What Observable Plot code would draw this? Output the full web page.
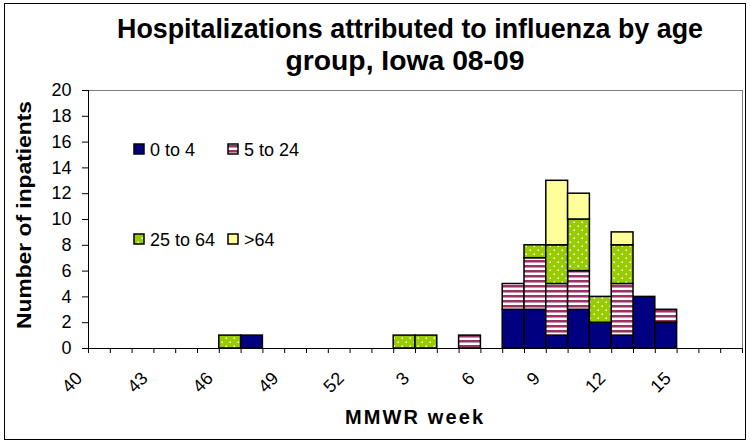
<!DOCTYPE html>
<html>
<head>
<meta charset="utf-8">
<script src="https://cdn.jsdelivr.net/npm/d3@7"></script>
<script src="https://cdn.jsdelivr.net/npm/@observablehq/plot@0.6"></script>
<style>
  body { margin: 0; background: #fff; }
  #wrap { position: relative; width: 750px; height: 444px; overflow: hidden; background: #fff; }
  #border { position: absolute; left: 4px; top: 3px; width: 742px; height: 437px; border: 1px solid #000; box-sizing: border-box; pointer-events: none; }
</style>
</head>
<body>
<div id="wrap"><div id="border"></div></div>
<script>
// ---- data ----
const weeks = ["40","41","42","43","44","45","46","47","48","49","50","51","52",
               "1","2","3","4","5","6","7","8","9","10","11","12","13","14","15","16","17"];
const seriesNames = ["0 to 4", "5 to 24", "25 to 64", ">64"];
//                40 41 42 43 44 45 46 47 48 49 50 51 52  1  2  3  4  5  6  7  8  9 10 11 12 13 14 15 16 17
const age0to4   = [0, 0, 0, 0, 0, 0, 0, 1, 0, 0, 0, 0, 0, 0, 0, 0, 0, 0, 0, 3, 3, 1, 3, 2, 1, 4, 2, 0, 0, 0];
const age5to24  = [0, 0, 0, 0, 0, 0, 0, 0, 0, 0, 0, 0, 0, 0, 0, 0, 0, 1, 0, 2, 4, 4, 3, 0, 4, 0, 1, 0, 0, 0];
const age25to64 = [0, 0, 0, 0, 0, 0, 1, 0, 0, 0, 0, 0, 0, 0, 1, 1, 0, 0, 0, 0, 1, 3, 4, 2, 3, 0, 0, 0, 0, 0];
const age65plus = [0, 0, 0, 0, 0, 0, 0, 0, 0, 0, 0, 0, 0, 0, 0, 0, 0, 0, 0, 0, 0, 5, 2, 0, 1, 0, 0, 0, 0, 0];
const yTicks = [0, 2, 4, 6, 8, 10, 12, 14, 16, 18, 20];
const labelStep = 3;

const seriesValues = [age0to4, age5to24, age25to64, age65plus];
const rows = [];
seriesValues.forEach((vals, s) => vals.forEach((v, i) => {
  if (v > 0) rows.push({x1: i, x2: i + 1, series: seriesNames[s], value: v});
}));

const patternIds = ["pat-navy", "pat-stripe", "pat-dots", "pat-yellow"];
const font = "'Liberation Sans', Arial, sans-serif";

const chart = Plot.plot({
  width: 750,
  height: 444,
  marginLeft: 88,
  marginRight: 8,
  marginTop: 90,
  marginBottom: 96,
  style: {fontFamily: font, fontSize: "18px", background: "transparent", color: "#000", overflow: "visible"},
  x: {type: "linear", domain: [0, weeks.length], axis: null},
  y: {domain: [0, 20], axis: null},
  color: {domain: seriesNames, range: patternIds.map(id => `url(#${id})`)},
  marks: [
    Plot.frame({stroke: "#808080", strokeWidth: 1}),
    Plot.rectY(rows, {x1: "x1", x2: "x2", y: "value", fill: "series", stroke: "#000", strokeWidth: 1.5}),
    Plot.ruleY([0], {stroke: "#000", strokeWidth: 1}),
    Plot.ruleX([0], {stroke: "#000", strokeWidth: 1}),
    Plot.axisX(d3.range(0, weeks.length + 1), {tickSize: 5, tickFormat: () => "", label: null, stroke: "#000"}),
    Plot.axisY(yTicks, {tickSize: 6, tickPadding: 11, label: null, fontSize: 18, stroke: "#000"}),
    Plot.text(d3.range(0, weeks.length, labelStep), {
      x: i => i + 0.5, frameAnchor: "bottom", text: i => weeks[i],
      rotate: -45, textAnchor: "end", dx: -16, dy: 31, fontSize: 18, fill: "#000"
    })
  ]
});

const svg = d3.select(chart);
const defs = svg.insert("defs", ":first-child");
// solid navy
defs.append("pattern").attr("id", "pat-navy").attr("patternUnits", "userSpaceOnUse")
  .attr("width", 4).attr("height", 4)
  .append("rect").attr("width", 4).attr("height", 4).attr("fill", "#000080");
// maroon / white stripes
const ps = defs.append("pattern").attr("id", "pat-stripe").attr("patternUnits", "userSpaceOnUse")
  .attr("width", 5).attr("height", 5);
ps.append("rect").attr("width", 5).attr("height", 5).attr("fill", "#ffffff");
ps.append("rect").attr("y", 0).attr("width", 5).attr("height", 2).attr("fill", "#993366");
ps.append("rect").attr("y", 2).attr("width", 5).attr("height", 1).attr("fill", "#cc8fb0");
// green with white dots
const pd = defs.append("pattern").attr("id", "pat-dots").attr("patternUnits", "userSpaceOnUse")
  .attr("width", 8).attr("height", 8);
pd.append("rect").attr("width", 8).attr("height", 8).attr("fill", "#99cc00");
pd.append("rect").attr("x", 1.5).attr("y", 1.5).attr("width", 1.5).attr("height", 1.5).attr("fill", "#ffffff");
pd.append("rect").attr("x", 5.5).attr("y", 5.5).attr("width", 1.5).attr("height", 1.5).attr("fill", "#ffffff");
// light yellow
defs.append("pattern").attr("id", "pat-yellow").attr("patternUnits", "userSpaceOnUse")
  .attr("width", 4).attr("height", 4)
  .append("rect").attr("width", 4).attr("height", 4).attr("fill", "#ffff99");

// title
const titleLines = ["Hospitalizations attributed to influenza by age", "group, Iowa 08-09"];
const titleX = [410, 405];
const titleY = [38, 70];
const titleLen = [586, 239];
svg.append("g").selectAll("text").data(titleLines).join("text")
  .attr("x", (d, i) => titleX[i]).attr("y", (d, i) => titleY[i])
  .attr("text-anchor", "middle").attr("font-family", font)
  .attr("font-weight", "bold").attr("font-size", 28).attr("fill", "#000")
  .attr("textLength", (d, i) => titleLen[i]).attr("lengthAdjust", "spacingAndGlyphs")
  .text(d => d);

// axis titles
svg.append("text").attr("x", 414).attr("y", 424).attr("text-anchor", "middle")
  .attr("font-family", font).attr("font-weight", "bold").attr("font-size", 20)
  .attr("textLength", 138).attr("lengthAdjust", "spacing")
  .attr("fill", "#000").text("MMWR week");
svg.append("text").attr("transform", "translate(31,215) rotate(-90)").attr("text-anchor", "middle")
  .attr("font-family", font).attr("font-weight", "bold").attr("font-size", 21)
  .attr("textLength", 228).attr("lengthAdjust", "spacingAndGlyphs")
  .attr("fill", "#000").text("Number of inpatients");

// legend
const legendPos = [[134, 149], [228, 149], [134, 239], [228, 239]];
const lg = svg.append("g").attr("text-anchor", "start");
seriesNames.forEach((name, k) => {
  const [lx, ly] = legendPos[k];
  lg.append("rect").attr("x", lx).attr("y", ly - 5).attr("width", 10).attr("height", 10)
    .attr("fill", `url(#${patternIds[k]})`).attr("stroke", "#000").attr("stroke-width", 1.5);
  lg.append("text").attr("x", lx + 16).attr("y", ly + 6.5).attr("font-family", font)
    .attr("text-anchor", "start").attr("font-size", 18).attr("fill", "#000").text(name);
});

document.getElementById("wrap").prepend(chart);
chart.style.position = "absolute";
chart.style.left = "0px";
chart.style.top = "0px";
</script>
</body>
</html>
